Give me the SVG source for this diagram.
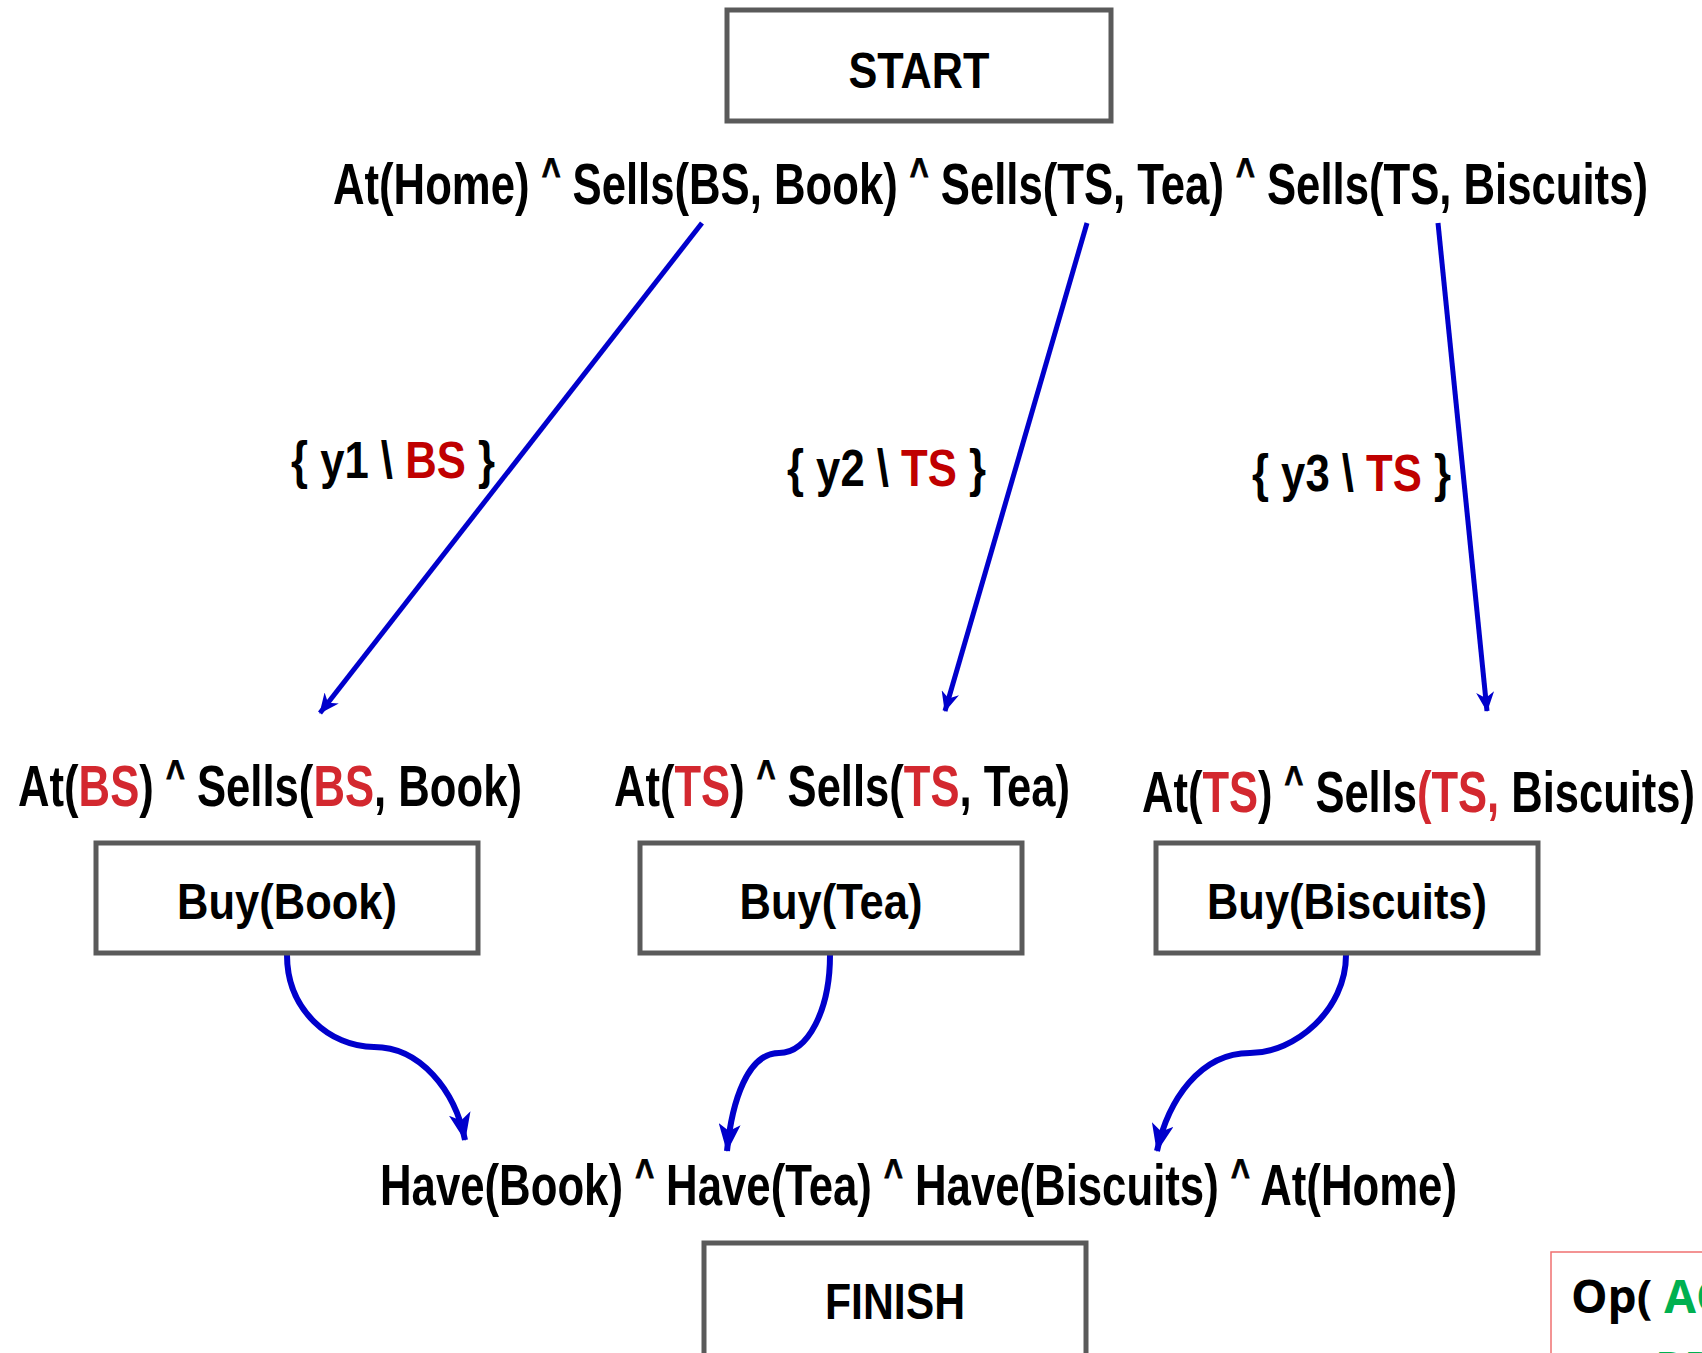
<svg xmlns="http://www.w3.org/2000/svg" width="1702" height="1353" viewBox="0 0 1702 1353">
<style>
.box{fill:#fff;stroke:#5a5a5a;stroke-width:5}
.t{font-family:"Liberation Sans Narrow","Liberation Sans",Arial,sans-serif;font-weight:bold;fill:#000}
.big{font-size:57px}
.bt{font-size:50px;text-anchor:middle}
.car{font-size:42px;font-family:"Liberation Sans",Arial,sans-serif;stroke:#000;stroke-width:1}
.r{fill:#d3282f}
.dr{fill:#c00000}
.conn{fill:none;stroke:#0000cc;stroke-width:5}
.curve{fill:none;stroke:#0000cc;stroke-width:6}
</style>
<defs>
<marker id="ah" viewBox="0 0 20 18" refX="19" refY="9" markerWidth="20" markerHeight="18" markerUnits="userSpaceOnUse" orient="auto">
<path d="M0,0 L20,9 L0,18 L6,9 z" fill="#0000cc"/>
</marker>
<marker id="ahc" viewBox="0 0 28 22" refX="27" refY="11" markerWidth="28" markerHeight="22" markerUnits="userSpaceOnUse" orient="auto">
<path d="M0,0 L28,11 L0,22 L7,11 z" fill="#0000cc"/>
</marker>
</defs>
<rect width="1702" height="1353" fill="#fff"/>

<g id="connectors">
<line class="conn" x1="702" y1="223" x2="320" y2="713" marker-end="url(#ah)"/>
<line class="conn" x1="1087" y1="223" x2="945" y2="711" marker-end="url(#ah)"/>
<line class="conn" x1="1438" y1="223" x2="1487" y2="711" marker-end="url(#ah)"/>
<path class="curve" d="M287,955 C287,1010 330,1047 374,1047 C420,1047 455,1090 465,1140" marker-end="url(#ahc)"/>
<path class="curve" d="M830,955 C830,1010 808,1053 779,1053 C748,1053 732,1100 727,1151" marker-end="url(#ahc)"/>
<path class="curve" d="M1346,955 C1346,1010 1295,1053 1250,1053 C1200,1053 1168,1100 1157,1151" marker-end="url(#ahc)"/>
</g>

<g id="start">
<rect class="box" x="727" y="10" width="384" height="111"/>
<text class="t bt" x="919" y="88" textLength="141" lengthAdjust="spacingAndGlyphs">START</text>
</g>

<g id="init-state">
<text class="t big" x="333" y="204" textLength="1315" lengthAdjust="spacingAndGlyphs">At(Home) <tspan class="car" dy="-16">^</tspan><tspan dy="16"> Sells(BS, Book) </tspan><tspan class="car" dy="-16">^</tspan><tspan dy="16"> Sells(TS, Tea) </tspan><tspan class="car" dy="-16">^</tspan><tspan dy="16"> Sells(TS, Biscuits)</tspan></text>
</g>

<g id="sub-labels">
<text class="t" font-size="52" x="291" y="478" textLength="204" lengthAdjust="spacingAndGlyphs">{ y1 \ <tspan class="dr">BS</tspan> }</text>
<text class="t" font-size="52" x="787" y="486" textLength="199" lengthAdjust="spacingAndGlyphs">{ y2 \ <tspan class="dr">TS</tspan> }</text>
<text class="t" font-size="52" x="1252" y="491" textLength="199" lengthAdjust="spacingAndGlyphs">{ y3 \ <tspan class="dr">TS</tspan> }</text>
</g>

<g id="buy-book">
<text class="t big" x="18" y="806" textLength="504" lengthAdjust="spacingAndGlyphs">At(<tspan class="r">BS</tspan>) <tspan class="car" dy="-16">^</tspan><tspan dy="16"> Sells(</tspan><tspan class="r">BS</tspan>, Book)</text>
<rect class="box" x="96" y="843" width="382" height="110"/>
<text class="t bt" x="287" y="919" textLength="220" lengthAdjust="spacingAndGlyphs">Buy(Book)</text>
</g>

<g id="buy-tea">
<text class="t big" x="614" y="806" textLength="456" lengthAdjust="spacingAndGlyphs">At(<tspan class="r">TS</tspan>) <tspan class="car" dy="-16">^</tspan><tspan dy="16"> Sells(</tspan><tspan class="r">TS</tspan>, Tea)</text>
<rect class="box" x="640" y="843" width="382" height="110"/>
<text class="t bt" x="831" y="919" textLength="183" lengthAdjust="spacingAndGlyphs">Buy(Tea)</text>
</g>

<g id="buy-biscuits">
<text class="t big" x="1142" y="812" textLength="553" lengthAdjust="spacingAndGlyphs">At(<tspan class="r">TS</tspan>) <tspan class="car" dy="-16">^</tspan><tspan dy="16"> Sells</tspan><tspan class="r">(TS,</tspan> Biscuits)</text>
<rect class="box" x="1156" y="843" width="382" height="110"/>
<text class="t bt" x="1347" y="919" textLength="280" lengthAdjust="spacingAndGlyphs">Buy(Biscuits)</text>
</g>

<g id="goal-state">
<text class="t big" x="380" y="1205" textLength="1077" lengthAdjust="spacingAndGlyphs">Have(Book) <tspan class="car" dy="-16">^</tspan><tspan dy="16"> Have(Tea) </tspan><tspan class="car" dy="-16">^</tspan><tspan dy="16"> Have(Biscuits) </tspan><tspan class="car" dy="-16">^</tspan><tspan dy="16"> At(Home)</tspan></text>
</g>

<g id="finish">
<rect class="box" x="704" y="1243" width="382" height="120"/>
<text class="t bt" x="895" y="1319" textLength="140" lengthAdjust="spacingAndGlyphs">FINISH</text>
</g>

<g id="op-box">
<rect x="1551" y="1252" width="200" height="150" fill="#fff" stroke="#f07070" stroke-width="1.5"/>
<text x="1571" y="1313" font-family="'Open Sans','Noto Sans',sans-serif" font-weight="bold" font-size="46" fill="#000">Op( <tspan fill="#00b050">AC</tspan></text>
<text x="1655" y="1385" font-family="'Open Sans','Noto Sans',sans-serif" font-weight="bold" font-size="46" fill="#00b050">PRE</text>
</g>
</svg>
